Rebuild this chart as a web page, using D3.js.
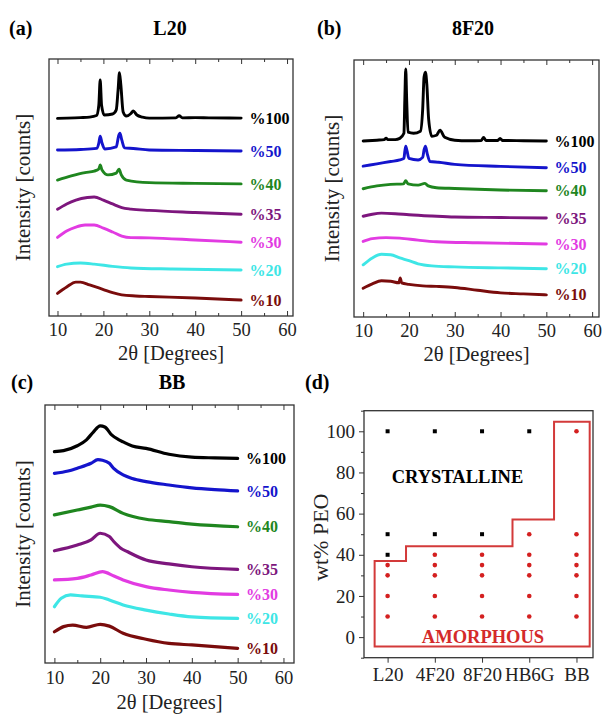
<!DOCTYPE html>
<html>
<head>
<meta charset="utf-8">
<script src="https://cdn.jsdelivr.net/npm/d3@7"></script>
<style>
  body { margin: 0; background: #fff; }
  svg, svg text { font-family: "Liberation Serif", "Times New Roman", "DejaVu Serif", serif; }
</style>
</head>
<body>
<svg id="fig" width="603" height="715"></svg>
<script>
// ---- data (2θ in degrees, intensity in arbitrary units 0-100 of the plot height)
const seriesLabels = ["%100", "%50", "%40", "%35", "%30", "%20", "%10"];
const lineColors = ["#000000", "#1414cc", "#1f861f", "#7d167d", "#e23be2", "#3ee6e6", "#7a0c0c"];
const xTicks = [10, 20, 30, 40, 50, 60];
const xMinorTicks = [15, 25, 35, 45, 55];
const serif = "Liberation Serif, Times New Roman, serif";

const curvesL20 = [
  [[10,76.9],[12,77.0],[15,77.2],[17,77.4],[18.5,78.0],[19.0,82],[19.3,91.8],[19.6,82],[20.2,78.2],[22,78.6],[22.8,80.2],[23.2,88],[23.5,94.7],[23.8,89.9],[24.3,79.4],[25,77.8],[26.0,78.8],[26.5,79.8],[27.3,78.2],[28.5,77.4],[30,77.0],[35.8,77.1],[36.5,77.9],[37.2,77.1],[40,77.2],[43,77.1],[50,77.0]],
  [[10,64.6],[15,64.8],[18.5,65.2],[19.0,67.3],[19.3,70.0],[19.7,67.3],[20.3,65.0],[22.8,65.8],[23.3,70.0],[23.6,71.1],[24.0,68.5],[24.6,65.4],[26.5,65.2],[30,64.6],[40,64.4],[50,64.2]],
  [[10,52.9],[13,54.5],[16,55.8],[18,56.4],[19.0,57.2],[19.3,58.8],[19.7,56.8],[21,54.9],[22.8,55.6],[23.4,57.1],[23.9,54.9],[25,52.9],[30,51.9],[40,51.6],[50,51.4]],
  [[10,41.5],[12,43.6],[14,45.1],[16.5,46.1],[18,46.3],[20,45.1],[22,43.6],[24,42.2],[26,41.6],[30,41.1],[40,40.3],[50,39.6]],
  [[10,30.6],[12,33.1],[14,34.6],[16,35.4],[18,35.4],[20,34.2],[22,32.7],[24,31.1],[26,30.5],[30,30.4],[40,29.6],[50,28.7]],
  [[10,19.2],[12,20.2],[15,20.6],[18,20.2],[22,19.3],[26,18.7],[35,18.3],[50,17.9]],
  [[10,8.8],[12,11.3],[14,13.2],[15,13.2],[17,12.1],[20,10.3],[22,9.1],[24,8.2],[27,7.8],[30,7.6],[40,7.0],[50,6.2]]
];

const curves8F20 = [
  [[10,68.5],[13,68.8],[14.6,69.0],[15,69.6],[15.4,69.0],[17,69.0],[18,69.5],[18.9,71.5],[19.1,84.8],[19.3,96.5],[19.5,84.8],[19.8,71.9],[21,71.5],[22.5,72.3],[23.0,80.9],[23.3,93.4],[23.6,95.3],[23.9,90.6],[24.3,77.0],[25,70.3],[26,70.7],[26.8,72.7],[27.8,69.9],[30,68.8],[33,68.6],[35.8,68.7],[36.3,69.9],[36.8,68.7],[39.4,68.7],[39.9,69.5],[40.4,68.7],[45,68.6],[50,68.5]],
  [[10,58.7],[13,59.6],[16,60.5],[18,61.1],[18.9,61.7],[19.1,64.5],[19.3,66.5],[19.6,64.5],[20,61.7],[22,61.1],[23,62.1],[23.3,65.0],[23.6,66.5],[24,63.5],[24.6,60.5],[26.5,60.2],[30,59.4],[40,58.6],[50,58.1]],
  [[10,49.9],[13,51.0],[16,51.6],[18.8,51.8],[19.3,53.0],[19.8,51.8],[22,51.3],[23.5,52.0],[24.2,51.0],[26,50.3],[30,50.0],[40,49.4],[50,49.1]],
  [[10,39.2],[12,40.0],[14,40.4],[17,40.2],[20,39.8],[25,39.3],[30,38.9],[40,38.7],[50,38.5]],
  [[10,29.4],[12,30.5],[15,30.9],[18,30.7],[22,29.9],[26,29.3],[35,28.9],[50,28.4]],
  [[10,20.3],[12,23.0],[14,24.4],[16,24.2],[18,23.0],[20,21.9],[22,20.7],[25,19.9],[30,19.5],[40,19.1],[50,18.8]],
  [[10,11.2],[12,12.9],[14,14.1],[16,13.9],[17.8,13.3],[18.1,15.2],[18.4,13.3],[20,12.7],[23,12.1],[26,11.9],[30,11.5],[35,10.4],[40,9.4],[45,9.0],[50,8.6]]
];

const curvesBB = [
  [[10,81.9],[12,82.3],[15,84.2],[17,86.5],[18.5,89.5],[20,91.9],[21,91.5],[22.5,88.4],[24,86.6],[25,85.7],[27,84.1],[30,83.2],[35,80.9],[40,79.8],[45,79.5],[50,79.3]],
  [[10,73.5],[13,74.4],[15,75.5],[18,77.4],[19.5,78.8],[20.5,78.6],[22,77.4],[23,75.3],[25,72.9],[27,71.5],[30,70.3],[35,69.0],[40,67.9],[45,67.2],[50,66.7]],
  [[10,57.4],[15,59.3],[18,60.4],[20,61.2],[22,60.6],[25,58.0],[30,55.7],[35,54.8],[40,53.8],[50,52.8]],
  [[10,43.5],[15,45.7],[18,47.7],[20,50.3],[22,49.0],[23,47.0],[24.5,44.5],[26,43.1],[30,39.9],[35,38.4],[40,37.3],[50,36.3]],
  [[10,32.2],[15,32.8],[18,34.1],[20.5,35.4],[23,33.7],[25,32.2],[30,29.6],[35,28.3],[40,27.4],[50,26.6]],
  [[10,21.8],[11.5,25.1],[13.5,26.4],[16,26.0],[20,25.5],[22,24.4],[25,22.5],[30,20.5],[35,19.0],[40,17.9],[50,17.3]],
  [[10,12.1],[12,14.1],[14,14.7],[17,13.8],[20,15.0],[22,14.3],[25,11.5],[30,9.2],[35,7.6],[40,7.0],[50,5.7]]
];

// phase diagram (d)
const phaseCats = ["L20", "4F20", "8F20", "HB6G", "BB"];
const phaseYTicks = [0, 20, 40, 60, 80, 100];
const phaseYMinor = [-10, 10, 30, 50, 70, 90, 110];
const crystalline = [[0,100],[0,50],[0,40],[1,100],[1,50],[2,100],[2,50],[3,100]];
const amorphous = [[0,35],[0,30],[0,20],[0,10],
  [1,40],[1,35],[1,30],[1,20],[1,10],
  [2,40],[2,35],[2,30],[2,20],[2,10],
  [3,50],[3,40],[3,35],[3,30],[3,20],[3,10],
  [4,100],[4,50],[4,40],[4,35],[4,30],[4,20],[4,10]];
const phaseBoundary = [[-0.275,-4.5],[-0.275,37],[0.39,37],[0.39,44.2],[2.645,44.2],[2.645,57.2],
  [3.525,57.2],[3.525,104.6],[4.28,104.6],[4.28,-4.5]];

const svg = d3.select("#fig");

function drawXrd(cfg) {
  const g = svg.append("g");
  const x = d3.scaleLinear().domain(cfg.xDomain).range([cfg.left, cfg.right]);
  const y = d3.scaleLinear().domain([0, 100]).range([cfg.bottom, cfg.top]);
  const line = d3.line().x(d => x(d[0])).y(d => y(d[1])).curve(d3.curveMonotoneX);

  cfg.curves.forEach((c, i) => {
    g.append("path")
      .attr("d", line(c))
      .attr("fill", "none")
      .attr("stroke", lineColors[i])
      .attr("stroke-width", cfg.sw)
      .attr("stroke-linejoin", "round")
      .attr("stroke-linecap", "round");
    const last = c[c.length - 1];
    g.append("text")
      .attr("x", x(51.8))
      .attr("y", y(last[1]))
      .attr("dy", "0.35em")
      .attr("font-size", 16)
      .attr("font-weight", "bold")
      .attr("font-family", serif)
      .attr("fill", lineColors[i])
      .text(seriesLabels[i]);
  });

  // frame
  g.append("rect")
    .attr("x", cfg.left).attr("y", cfg.top)
    .attr("width", cfg.right - cfg.left).attr("height", cfg.bottom - cfg.top)
    .attr("fill", "none").attr("stroke", "#333").attr("stroke-width", 1.3);

  // bottom axis, ticks pointing in
  const bot = g.append("g").attr("transform", `translate(0,${cfg.bottom})`)
    .call(d3.axisBottom(x).tickValues(xTicks).tickSize(-5).tickPadding(cfg.pad).tickFormat(d3.format("d")));
  bot.append("g").call(d3.axisBottom(x).tickValues(xMinorTicks).tickSize(-3).tickFormat(""));
  const top = g.append("g").attr("transform", `translate(0,${cfg.top})`)
    .call(d3.axisTop(x).tickValues(xTicks).tickSize(-5).tickFormat(""));
  top.append("g").call(d3.axisTop(x).tickValues(xMinorTicks).tickSize(-3).tickFormat(""));
  g.selectAll(".domain").remove();
  g.selectAll(".tick line").attr("stroke", "#333");
  g.selectAll("g").attr("font-family", serif);
  bot.selectAll("text").attr("font-size", 18.5).attr("fill", "#222");

  g.append("text")
    .attr("x", (cfg.left + cfg.right) / 2)
    .attr("y", cfg.bottom + cfg.titleOff)
    .attr("dy", "0.35em")
    .attr("text-anchor", "middle")
    .attr("font-size", 20.5)
    .attr("font-family", serif)
    .attr("fill", "#222")
    .text("2θ [Degrees]");

  g.append("text")
    .attr("transform", `translate(${cfg.yTitleX},${(cfg.top + cfg.bottom) / 2}) rotate(-90)`)
    .attr("dy", "0.35em")
    .attr("text-anchor", "middle")
    .attr("font-size", 21)
    .attr("font-family", serif)
    .attr("fill", "#222")
    .text("Intensity [counts]");

  g.append("text")
    .attr("x", cfg.titleX).attr("y", cfg.titleY).attr("dy", "0.35em")
    .attr("text-anchor", "middle")
    .attr("font-size", 20).attr("font-weight", "bold").attr("font-family", serif)
    .text(cfg.title);
  g.append("text")
    .attr("x", cfg.letterX).attr("y", cfg.titleY).attr("dy", "0.35em")
    .attr("font-size", 20).attr("font-weight", "bold").attr("font-family", serif)
    .text(cfg.letter);
}

drawXrd({ curves: curvesL20, xDomain: [8.15, 61.3], left: 49, right: 293, top: 59, bottom: 316,
  sw: 2.9, pad: 7, titleOff: 37, yTitleX: 23, title: "L20", titleX: 170, titleY: 28, letter: "(a)", letterX: 9 });
drawXrd({ curves: curves8F20, xDomain: [8.0, 61.5], left: 354, right: 599, top: 60, bottom: 317,
  sw: 2.9, pad: 7, titleOff: 37, yTitleX: 332, title: "8F20", titleX: 473, titleY: 28, letter: "(b)", letterX: 317 });
drawXrd({ curves: curvesBB, xDomain: [7.95, 62.3], left: 45, right: 294, top: 405, bottom: 663,
  sw: 3.2, pad: 8, titleOff: 39, yTitleX: 23, title: "BB", titleX: 172, titleY: 382, letter: "(c)", letterX: 11 });

// ---- panel (d)
(function () {
  const L = 364, R = 593, T = 410.7, B = 657.7;
  const g = svg.append("g");
  const x = d3.scaleLinear().domain([-0.5, 4.35]).range([L, R]);
  const y = d3.scaleLinear().domain([-10, 110]).range([B, T]);

  g.append("path")
    .attr("d", d3.line().x(d => x(d[0])).y(d => y(d[1]))(phaseBoundary) + "Z")
    .attr("fill", "none").attr("stroke", "#d33a3a").attr("stroke-width", 2);

  g.selectAll(".cr").data(crystalline).join("rect")
    .attr("x", d => x(d[0]) - 2).attr("y", d => y(d[1]) - 2)
    .attr("width", 4).attr("height", 4).attr("fill", "#000");
  g.selectAll(".am").data(amorphous).join("circle")
    .attr("cx", d => x(d[0])).attr("cy", d => y(d[1])).attr("r", 2.3).attr("fill", "#d42020");

  g.append("text").attr("x", x(1.48)).attr("y", y(78)).attr("dy", "0.35em")
    .attr("text-anchor", "middle").attr("font-size", 18.5).attr("font-weight", "bold")
    .attr("font-family", serif)
    .text("CRYSTALLINE");
  g.append("text").attr("x", x(2.02)).attr("y", y(0.5)).attr("dy", "0.35em")
    .attr("text-anchor", "middle").attr("font-size", 18.5).attr("font-weight", "bold")
    .attr("font-family", serif)
    .attr("fill", "#d42a2a").text("AMORPHOUS");

  g.append("rect").attr("x", L).attr("y", T).attr("width", R - L).attr("height", B - T)
    .attr("fill", "none").attr("stroke", "#333").attr("stroke-width", 1.3);

  const ya = g.append("g").attr("transform", `translate(${L},0)`)
    .call(d3.axisLeft(y).tickValues(phaseYTicks).tickSize(5).tickPadding(4));
  ya.append("g").call(d3.axisLeft(y).tickValues(phaseYMinor).tickSize(3).tickFormat(""));
  g.append("g").attr("transform", `translate(0,${B})`)
    .call(d3.axisBottom(x).tickValues(d3.range(phaseCats.length)).tickSize(5).tickPadding(5)
      .tickFormat(i => phaseCats[i]));
  g.selectAll(".domain").remove();
  g.selectAll("g").attr("font-family", serif);
  g.selectAll(".tick line").attr("stroke", "#333");
  g.selectAll(".tick text").attr("font-size", 19).attr("fill", "#222");

  g.append("text")
    .attr("transform", `translate(320,${(T + B) / 2 + 3}) rotate(-90)`)
    .attr("dy", "0.35em").attr("text-anchor", "middle")
    .attr("font-size", 22).attr("font-family", serif).attr("fill", "#222")
    .text("wt% PEO");
  g.append("text").attr("x", 305).attr("y", 382).attr("dy", "0.35em")
    .attr("font-size", 20).attr("font-weight", "bold").attr("font-family", serif).text("(d)");
})();
</script>
</body>
</html>
